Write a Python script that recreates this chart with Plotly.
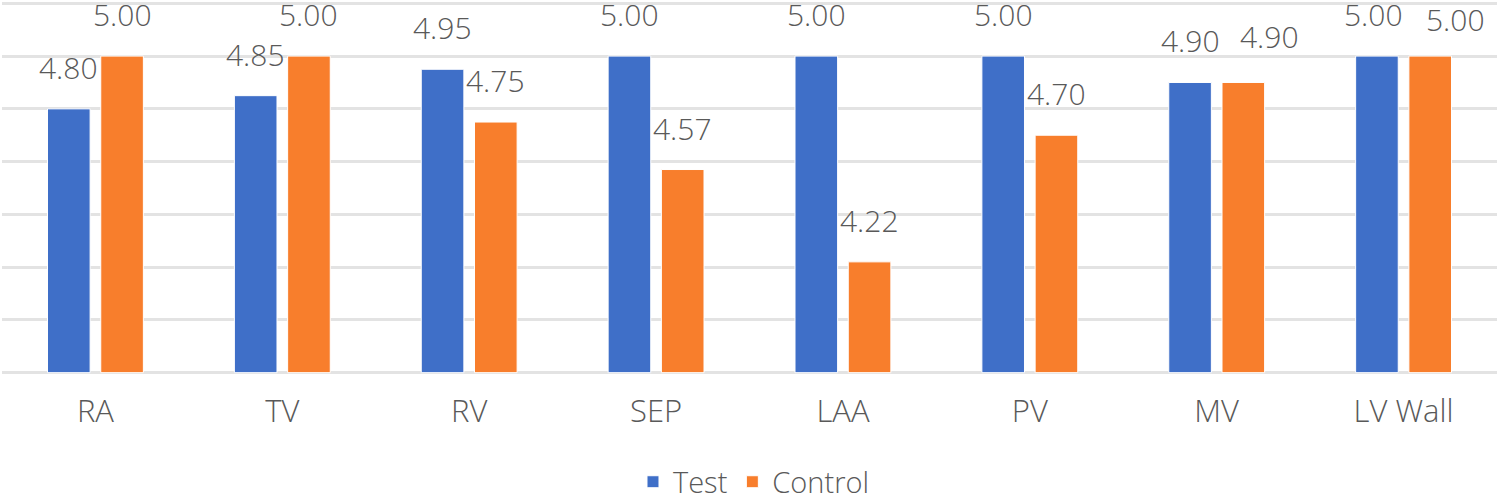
import plotly.graph_objects as go

categories = ["RA", "TV", "RV", "SEP", "LAA", "PV", "MV", "LV Wall"]
test_values = [4.80, 4.85, 4.95, 5.00, 5.00, 5.00, 4.90, 5.00]
control_values = [5.00, 5.00, 4.75, 4.57, 4.22, 4.70, 4.90, 5.00]
series_names = ["Test", "Control"]
y_ticks = [3.8, 4.0, 4.2, 4.4, 4.6, 4.8, 5.0, 5.2]
y_base = 3.8

BLUE = "#3F6FC8"
ORANGE = "#F87E2C"
TEXT = "#595959"
FONT = "Open Sans"

# label nudges (px) where the original chart moved labels to avoid overlap
nudges = {("MV", 1): (26, 4), ("LV Wall", 1): (25, -5), ("LV Wall", 0): (-3, 0)}

fig = go.Figure()
for name, vals, col in [(series_names[0], test_values, BLUE), (series_names[1], control_values, ORANGE)]:
    fig.add_trace(go.Bar(
        x=categories, y=[v - y_base for v in vals], base=y_base, name=name,
        marker=dict(color=col, line=dict(color="white", width=1)),
    ))

cat_px = 1495 / len(categories)
slot_px = cat_px * (1 - 0.43) / 2
for i, cat in enumerate(categories):
    for j, vals in enumerate([test_values, control_values]):
        dx, dy = nudges.get((cat, j), (0, 0))
        fig.add_annotation(
            x=cat, y=vals[i], xref="x", yref="y",
            text=f"{vals[i]:.2f}", showarrow=False, borderpad=0,
            xshift=(j - 0.5) * slot_px + dx, yshift=20 + dy, yanchor="bottom",
            font=dict(family=FONT, size=30, color=TEXT, weight=300),
        )

fig.update_layout(
    width=1500, height=495,
    margin=dict(l=2, r=3, t=2, b=121, autoexpand=False),
    paper_bgcolor="white", plot_bgcolor="white",
    barmode="group", bargap=0.43, bargroupgap=0.2,
    showlegend=True,
    legend=dict(orientation="h", x=0.503, xanchor="center", y=-0.29, yanchor="middle",
                font=dict(family=FONT, size=29, color=TEXT, weight=300),
                itemwidth=30, traceorder="normal"),
    font=dict(family=FONT, size=28, color=TEXT),
)
fig.update_xaxes(showgrid=False, showline=False, ticks="", zeroline=False,
                 tickfont=dict(family=FONT, size=31, color=TEXT, weight=300),
                 ticklabelstandoff=16)
fig.update_yaxes(range=[3.795, 5.205], tickvals=y_ticks, showticklabels=False,
                 showgrid=True, gridcolor="#E3E3E3", gridwidth=2.5,
                 zeroline=False, showline=False, ticks="")

fig.write_html("out.html", config={"displayModeBar": False},
               post_script="document.body.style.margin='0';")
